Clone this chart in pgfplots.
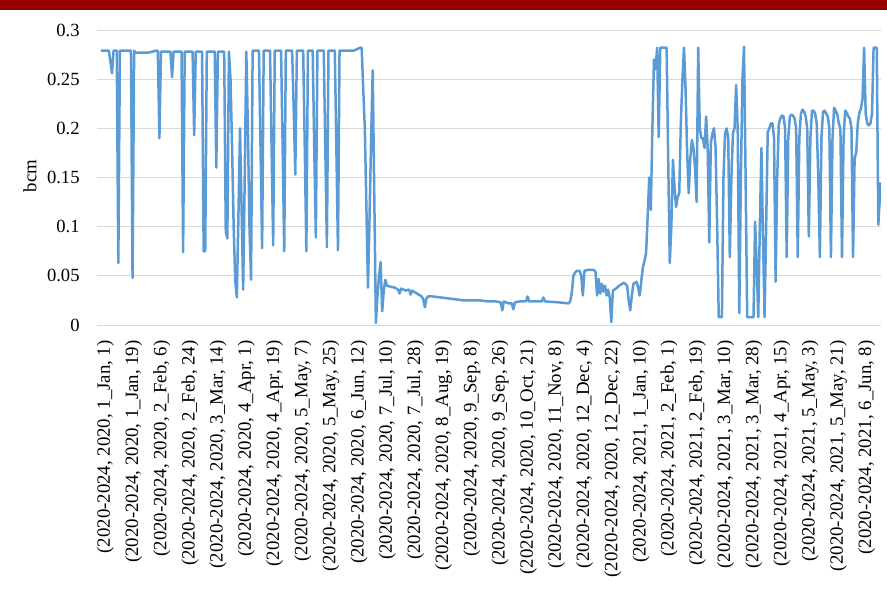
\documentclass[border=0pt]{standalone}
\usepackage{fontspec}
\setmainfont{Liberation Serif}
\usepackage{pgfplots}
\pgfplotsset{compat=1.18}
\definecolor{band}{RGB}{150,0,0}
\definecolor{series}{RGB}{91,155,213}
\definecolor{gridc}{RGB}{217,217,217}
\begin{document}
\begin{tikzpicture}
\useasboundingbox (-48.5pt,-134.5pt) rectangle (395pt,162.5pt);
\fill[band] (-48.5pt,157.7pt) rectangle (395pt,162.5pt);
\begin{axis}[
  at={(0,0)}, anchor=south west,
  scale only axis, width=392pt, height=147.5pt,
  xmin=-2.5, xmax=493.7, ymin=0, ymax=0.3,
  axis line style={draw=none},
  major tick length=0pt,
  ymajorgrids, grid style={gridc, line width=0.5pt},
  ytick={0,0.05,0.1,0.15,0.2,0.25,0.3},
  yticklabels={0,0.05,0.1,0.15,0.2,0.25,0.3},
  yticklabel style={font=\fontsize{9.3}{11}\selectfont, inner sep=0pt, xshift=-8.5pt},
  xtick={2.85,20.69,38.53,56.37,74.21,92.05,109.89,127.73,145.57,163.41,181.25,199.09,216.93,234.77,252.61,270.45,288.29,306.13,323.97,341.81,359.65,377.49,395.33,413.17,431.01,448.85,466.69,484.53},
  xticklabels={{(2020-2024, 2020, 1\_Jan, 1)},{(2020-2024, 2020, 1\_Jan, 19)},{(2020-2024, 2020, 2\_Feb, 6)},{(2020-2024, 2020, 2\_Feb, 24)},{(2020-2024, 2020, 3\_Mar, 14)},{(2020-2024, 2020, 4\_Apr, 1)},{(2020-2024, 2020, 4\_Apr, 19)},{(2020-2024, 2020, 5\_May, 7)},{(2020-2024, 2020, 5\_May, 25)},{(2020-2024, 2020, 6\_Jun, 12)},{(2020-2024, 2020, 7\_Jul, 10)},{(2020-2024, 2020, 7\_Jul, 28)},{(2020-2024, 2020, 8\_Aug, 19)},{(2020-2024, 2020, 9\_Sep, 8)},{(2020-2024, 2020, 9\_Sep, 26)},{(2020-2024, 2020, 10\_Oct, 21)},{(2020-2024, 2020, 11\_Nov, 8)},{(2020-2024, 2020, 12\_Dec, 4)},{(2020-2024, 2020, 12\_Dec, 22)},{(2020-2024, 2021, 1\_Jan, 10)},{(2020-2024, 2021, 2\_Feb, 1)},{(2020-2024, 2021, 2\_Feb, 19)},{(2020-2024, 2021, 3\_Mar, 10)},{(2020-2024, 2021, 3\_Mar, 28)},{(2020-2024, 2021, 4\_Apr, 15)},{(2020-2024, 2021, 5\_May, 3)},{(2020-2024, 2021, 5\_May, 21)},{(2020-2024, 2021, 6\_Jun, 8)}},
  xticklabel style={font=\fontsize{9.4}{11}\selectfont, rotate=90, anchor=east, inner sep=0pt},
  xticklabel shift=7.5pt,
  ylabel={bcm},
  every axis y label/.style={at={(axis description cs:-0.0855,0.505)}, rotate=90, anchor=center, font=\fontsize{9.4}{11}\selectfont},
]
\addplot[series, line width=1.25pt, line join=round] coordinates {
(0,0.279) (1,0.279) (5,0.279) (6,0.268) (7,0.256) (8,0.279) (10,0.279) (11,0.063) (12,0.279)
(19,0.279) (20,0.048) (21,0.279) (22,0.277) (30,0.277) (35,0.279) (36,0.279) (37,0.19) (38,0.278)
(44,0.278) (45,0.252) (46,0.278) (51,0.278) (52,0.074) (53,0.278) (58,0.278) (59,0.193) (60,0.278)
(64,0.278) (65,0.075) (66,0.075) (67,0.278) (72,0.278) (73,0.16) (74,0.278) (78,0.278) (79,0.095)
(80,0.088) (81,0.278) (82,0.25) (83,0.18) (84,0.1) (85,0.045) (86,0.028) (87,0.11) (88,0.2)
(89,0.12) (90,0.036) (91,0.15) (92,0.278) (93,0.2) (94,0.1) (95,0.046) (96,0.279)
(100,0.279) (101,0.18) (102,0.078) (103,0.279) (107,0.279) (108,0.18) (109,0.081) (110,0.279)
(114,0.279) (115,0.18) (116,0.075) (117,0.279) (121,0.279) (122,0.22) (123,0.153) (124,0.279)
(128,0.279) (129,0.18) (130,0.075) (131,0.279) (134,0.279) (135,0.18) (136,0.089) (137,0.279)
(141,0.279) (142,0.18) (143,0.079) (144,0.279) (148,0.279) (149,0.18) (150,0.076) (151,0.279)
(160,0.279) (164,0.282) (165,0.282) (166,0.24) (167,0.2) (168,0.12) (169,0.038) (170,0.11)
(171,0.19) (172,0.259) (173,0.13) (174,0.002) (175,0.03) (176,0.05) (177,0.064) (178,0.014)
(179,0.035) (180,0.046) (181,0.04) (183,0.039) (186,0.038) (188,0.036) (189,0.032) (190,0.037)
(193,0.035) (195,0.036) (196,0.031) (197,0.035) (200,0.032) (203,0.029) (204,0.026) (205,0.018)
(206,0.027) (207,0.029) (210,0.029) (215,0.028) (220,0.027) (225,0.026) (230,0.025) (240,0.025)
(245,0.024) (250,0.024) (253,0.023) (254,0.015) (255,0.024) (258,0.022) (260,0.022) (261,0.016)
(262,0.023) (265,0.024) (269,0.024) (270,0.029) (271,0.024) (279,0.024) (280,0.028) (281,0.024)
(290,0.023) (296,0.022) (297,0.024) (298,0.033) (299,0.05) (300,0.053) (301,0.055) (303,0.055)
(304,0.05) (305,0.03) (306,0.055) (308,0.056) (312,0.056) (313,0.054) (314,0.03) (315,0.047)
(316,0.032) (317,0.042) (318,0.034) (319,0.04) (320,0.03) (321,0.036) (322,0.028) (323,0.003)
(324,0.035) (326,0.037) (328,0.04) (331,0.043) (333,0.04) (334,0.025) (335,0.015) (336,0.03)
(337,0.042) (339,0.044) (340,0.038) (341,0.03) (342,0.045) (343,0.059) (344,0.065) (345,0.073)
(346,0.11) (347,0.15) (348,0.117) (349,0.2) (350,0.27) (351,0.26) (352,0.282) (353,0.191)
(354,0.282) (358,0.282) (359,0.17) (360,0.063) (361,0.1) (362,0.168) (363,0.14) (364,0.12)
(365,0.13) (366,0.134) (367,0.205) (368,0.249) (369,0.282) (370,0.24) (371,0.175) (372,0.134)
(373,0.17) (374,0.188) (375,0.18) (376,0.16) (377,0.125) (378,0.282) (379,0.2) (380,0.19)
(381,0.19) (382,0.18) (383,0.212) (384,0.18) (385,0.084) (386,0.185) (387,0.195) (388,0.2)
(389,0.18) (390,0.1) (391,0.008) (392,0.008) (393,0.008) (394,0.15) (395,0.195) (396,0.2)
(397,0.19) (398,0.069) (399,0.15) (400,0.195) (401,0.2) (402,0.244) (403,0.2) (404,0.012)
(405,0.15) (406,0.25) (407,0.283) (408,0.15) (409,0.008) (410,0.008) (411,0.008) (412,0.008)
(413,0.008) (414,0.105) (415,0.06) (416,0.008) (417,0.1) (418,0.18) (419,0.09) (420,0.008)
(421,0.1) (422,0.196) (423,0.2) (424,0.205) (425,0.205) (426,0.19) (427,0.044) (428,0.15)
(429,0.204) (430,0.21) (431,0.213) (432,0.212) (433,0.2) (434,0.069) (435,0.19) (436,0.212)
(437,0.214) (438,0.213) (439,0.21) (440,0.2) (441,0.069) (442,0.19) (443,0.215) (444,0.219)
(445,0.217) (446,0.212) (447,0.2) (448,0.09) (449,0.19) (450,0.218) (451,0.218) (452,0.215)
(453,0.205) (454,0.15) (455,0.069) (456,0.19) (457,0.217) (458,0.218) (459,0.215) (460,0.212)
(461,0.2) (462,0.069) (463,0.19) (464,0.221) (465,0.218) (466,0.214) (467,0.205) (468,0.2)
(469,0.069) (470,0.19) (471,0.218) (472,0.216) (473,0.212) (474,0.21) (475,0.2) (476,0.069)
(477,0.17) (478,0.175) (479,0.205) (480,0.216) (481,0.22) (482,0.23) (483,0.282) (484,0.215)
(485,0.205) (486,0.203) (487,0.205) (488,0.215) (489,0.282) (490,0.282) (491,0.282) (492,0.102)
(493.5,0.145)
};
\end{axis}
\end{tikzpicture}
\end{document}
